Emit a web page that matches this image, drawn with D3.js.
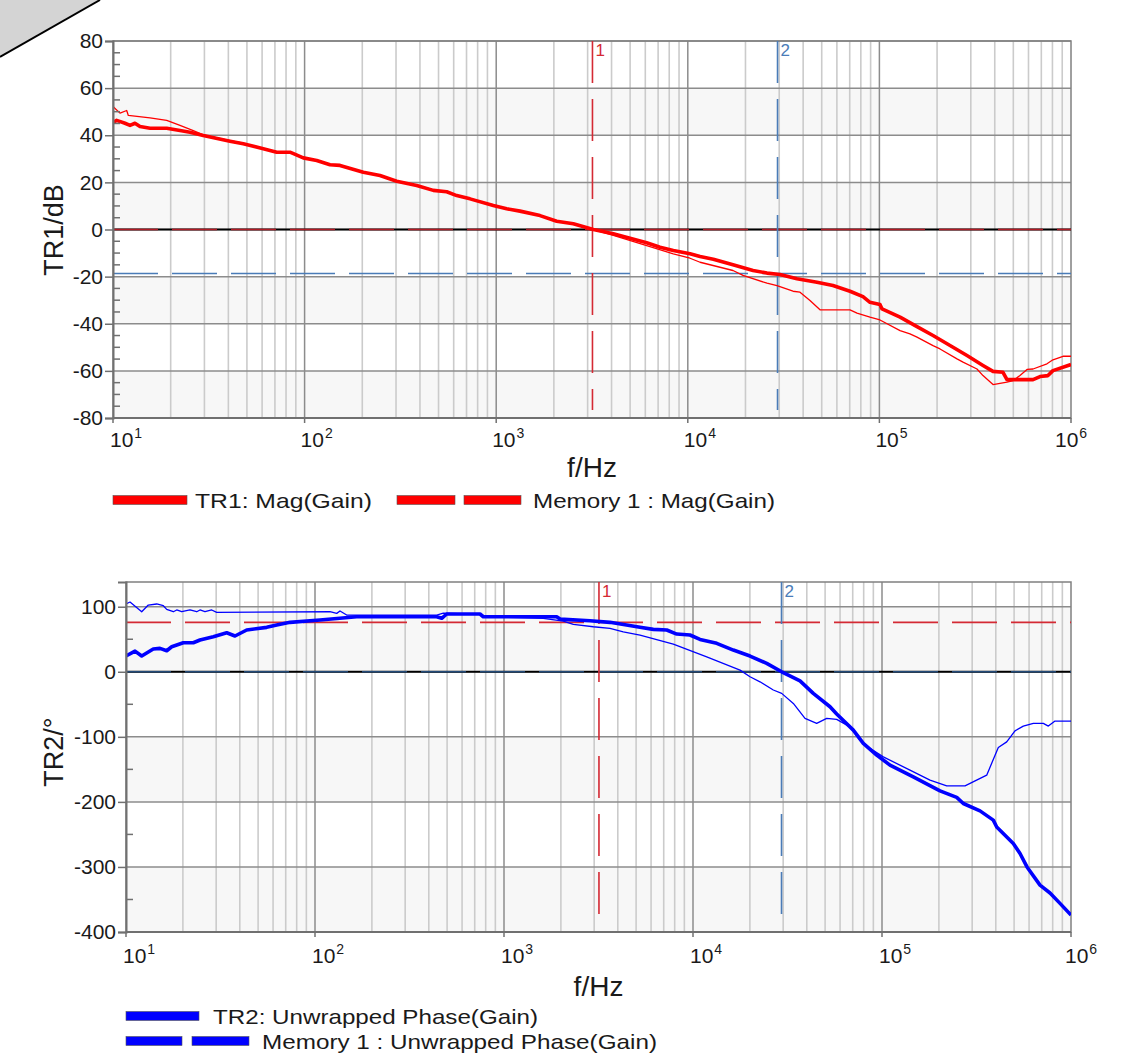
<!DOCTYPE html>
<html>
<head>
<meta charset="utf-8">
<script src="https://cdn.jsdelivr.net/npm/d3@7"></script>
<style>
  body { margin: 0; background: #fff; }
  svg text { font-family: "Liberation Sans", Arial, Helvetica, sans-serif; fill: #1a1a1a; }
</style>
</head>
<body>
<div id="chart"></div>
<script>
// ---- values (frequency in Hz) ----
var magFreq = [10, 10.45, 11.55, 12.27, 13.02, 13.83, 15.6, 19.07, 22.37, 25.23,
  29.6, 40.79, 47.87, 60.87, 71.52, 83.89, 98.44, 115.7, 135.7, 153,
  202.5, 247.5, 302.5, 384.7, 469.6, 551.6, 622.1, 730, 965.9, 1134,
  1331, 1693, 2069, 2526, 3213, 4086, 4993, 6101, 7160, 8401,
  10270, 11590, 13590, 17210, 21900, 25900, 30270, 37130, 47220, 57240,
  70250, 82080, 89300, 100700, 103200, 128200, 157100, 190500, 242200, 286500,
  347300, 391700, 441600, 463400, 633800, 689200, 758300, 805000, 1000000];
var magGain = [45.4, 46.3, 45.1, 44.2, 45.1, 43.7, 43.0, 43.0, 42.0, 41.3,
  39.9, 37.5, 36.4, 34.3, 32.8, 32.8, 30.4, 29.3, 27.5, 27.2,
  24.3, 22.9, 20.5, 18.7, 16.6, 16.0, 14.4, 13.0, 10.2, 8.8,
  7.8, 5.9, 3.5, 2.4, 0, -1.8, -3.7, -5.6, -7.5, -8.9,
  -10.3, -11.5, -12.6, -15.0, -17.4, -18.5, -19.1, -20.9, -22.4, -23.8,
  -26.2, -28.5, -30.9, -31.8, -33.7, -37.2, -41.2, -45.0, -50.0, -53.5,
  -57.7, -60.2, -60.6, -63.7, -63.7, -62.4, -62.0, -59.9, -57.3];

var memMagFreq = [10, 10.88, 11.79, 12.02, 15.6, 19.07, 22.37, 26.25, 29.6, 40.79,
  47.87, 60.87, 71.52, 83.89, 98.44, 115.7, 135.7, 153, 202.5, 247.5,
  302.5, 384.7, 469.6, 551.6, 622.1, 730, 965.9, 1134, 1331, 1693,
  2069, 2526, 3213, 4086, 6101, 8401, 10270, 11590, 17210, 19420,
  25900, 29210, 35410, 38510, 43420, 48980, 70250, 76400, 89300, 100700,
  128200, 144400, 157100, 190500, 207200, 254100, 273200, 323100, 347300, 391700,
  463400, 498200, 541700, 589400, 633800, 749300, 805000, 908200, 1000000];
var memMagGain = [52.2, 49.4, 50.5, 48.4, 47.4, 46.3, 44.2, 42.0, 40.2, 37.7,
  36.6, 34.4, 33.0, 32.9, 30.6, 29.4, 27.7, 27.3, 24.5, 23.0,
  20.6, 18.8, 16.8, 16.0, 14.6, 13.1, 10.3, 8.9, 7.9, 6.0,
  3.6, 2.4, 0, -2.5, -6.8, -10.3, -12.2, -13.9, -17.4, -19.5,
  -22.8, -23.8, -26.2, -26.6, -30.1, -34.1, -34.1, -35.5, -37.2, -38.4,
  -42.9, -44.3, -45.7, -49.3, -50.7, -54.9, -56.3, -59.2, -62.0, -65.8,
  -64.8, -64.1, -62.0, -59.4, -59.2, -57.0, -55.3, -53.8, -53.8];

var phaseFreq = [10, 11.16, 12.11, 13.94, 15.13, 16.42, 17.45, 20.1, 22.7, 24.63,
  28.97, 34.11, 37.73, 43.51, 55.52, 62.72, 73.76, 106.3, 166.2, 440.5,
  468.1, 497.5, 746.5, 777.3, 1900, 1979, 2851, 3637, 5244, 6166,
  7260, 8200, 9640, 10890, 13350, 16340, 20030, 24540, 29460, 36830,
  43290, 53080, 57580, 70500, 79620, 93760, 110200, 146400, 202700, 248500,
  269300, 330000, 388000, 404500, 495100, 537400, 585100, 685500, 774400, 874500,
  1000000];
var phaseDeg = [24.2, 31.8, 24.2, 34.9, 36.0, 32.3, 38.5, 44.6, 44.6, 48.8,
  53.8, 60.0, 55.0, 64.2, 68.3, 71.8, 76.0, 79.5, 84.6, 84.6,
  82.2, 88.8, 88.8, 84.6, 84.6, 81.0, 78.5, 76.0, 68.3, 65.2,
  64.2, 58.0, 56.5, 49.8, 43.7, 33.4, 24.2, 12.9, 0, -14,
  -33.2, -53.8, -65.0, -89.7, -110, -128, -143.5, -161.5, -183, -193,
  -202.5, -213.8, -228, -238.5, -264, -279.4, -300, -328, -340, -356,
  -374];

var memPhaseFreq = [10, 10.5, 12.11, 13.12, 14.54, 15.76, 16.42, 17.8, 18.55, 19.71,
  21.81, 23.67, 24.63, 26.18, 28.41, 30.19, 120, 130.3, 135.6, 147.1,
  440.5, 477.3, 746.5, 777.3, 1614, 2060, 2326, 2969, 3637, 4277,
  5244, 7866, 11820, 17740, 20030, 22620, 26600, 29460, 33950, 39140,
  45130, 50990, 57580, 67720, 76480, 86400, 101600, 140600, 179500, 220000,
  274900, 358100, 412500, 456900, 505400, 559200, 631800, 713800, 758700, 823000,
  1000000];
var memPhaseDeg = [104.2, 107.2, 92.3, 102.6, 104.2, 101.5, 96.0, 92.3, 95.0, 92.3,
  95.0, 92.3, 95.0, 92.3, 95.0, 91.4, 92.3, 89.8, 93.4, 87.2,
  87.2, 90.0, 88.3, 84.6, 82.2, 78.0, 73.0, 69.2, 66.8, 61.5,
  56.5, 42.6, 23.0, 2.6, -7.7, -15.4, -28, -33.2, -48.6, -71.7,
  -79.4, -71.7, -73.2, -84.6, -105, -117.8, -130.8, -151.2, -166.6, -175.4,
  -175.4, -158.9, -116.3, -107.7, -90.8, -83.5, -79.4, -79.4, -83.5, -75.8,
  -75.8];

var markerFreq = [3180, 29400];
var markerLabels = ["1", "2"];
var markerColors = ["#d42a34", "#4a7cb8"];
var markerMag = [0, -18.7];
var markerPhase = [76, 0];

var magTicks = [80, 60, 40, 20, 0, -20, -40, -60, -80];
var phaseTicks = [100, 0, -100, -200, -300, -400];
var decadeExp = [1, 2, 3, 4, 5, 6];
// -------------------------------------------------

var W = 1124, H = 1055;
var svg = d3.select("#chart").append("svg")
  .attr("width", W).attr("height", H);

// folded page corner, top-left
svg.append("path").attr("d", "M0,0 L100,0 L0,57 Z").attr("fill", "#d4d4d4");
svg.append("line").attr("x1", 100).attr("y1", 0).attr("x2", 0).attr("y2", 57)
  .attr("stroke", "#000").attr("stroke-width", 2);

function drawPanel(opt) {
  var x = d3.scaleLog().domain([10, 1e6]).range([opt.left, opt.right]);
  var y = d3.scaleLinear().domain(opt.yDomain).range([opt.bottom, opt.top]);
  var g = svg.append("g");
  var step = opt.yTicks[0] - opt.yTicks[1];

  // alternating bands
  opt.yTicks.forEach(function(t) {
    var lo = t, hi = Math.min(t + step, opt.yDomain[1]);
    if (hi <= lo) return;
    if (((lo % (2 * step)) + 2 * step) % (2 * step) !== 0) return;
    g.append("rect")
      .attr("x", opt.left).attr("width", opt.right - opt.left)
      .attr("y", y(hi)).attr("height", y(lo) - y(hi))
      .attr("fill", "#f7f7f7");
  });

  // minor vertical grid
  var minor = [];
  decadeExp.slice(0, -1).forEach(function(e) {
    for (var k = 2; k <= 9; k++) minor.push(k * Math.pow(10, e));
  });
  g.selectAll(".vminor").data(minor).enter().append("line")
    .attr("x1", d => x(d)).attr("x2", d => x(d))
    .attr("y1", opt.top).attr("y2", opt.bottom)
    .attr("stroke", "#cbcbcb").attr("stroke-width", 1.6);
  // decade lines
  g.selectAll(".vmajor").data(decadeExp.slice(1, -1)).enter().append("line")
    .attr("x1", d => x(Math.pow(10, d))).attr("x2", d => x(Math.pow(10, d)))
    .attr("y1", opt.top).attr("y2", opt.bottom)
    .attr("stroke", "#8c8c8c").attr("stroke-width", 1.5);
  // horizontal grid
  g.selectAll(".hgrid").data(opt.yTicks).enter().append("line")
    .attr("x1", opt.left).attr("x2", opt.right)
    .attr("y1", d => y(d)).attr("y2", d => y(d))
    .attr("stroke", "#8c8c8c").attr("stroke-width", 1.5);

  // frame
  g.append("rect")
    .attr("x", opt.left).attr("y", opt.top)
    .attr("width", opt.right - opt.left).attr("height", opt.bottom - opt.top)
    .attr("fill", "none").attr("stroke", "#808080").attr("stroke-width", 1.5);

  // zero line
  g.append("line")
    .attr("x1", opt.left).attr("x2", opt.right)
    .attr("y1", y(0)).attr("y2", y(0))
    .attr("stroke", "#000").attr("stroke-width", 2);

  // marker horizontal levels
  opt.markerValues.forEach(function(v, i) {
    g.append("line")
      .attr("x1", opt.left).attr("x2", opt.right)
      .attr("y1", y(v)).attr("y2", y(v))
      .attr("stroke", opt.hColors[i]).attr("stroke-width", 1.6)
      .attr("stroke-dasharray", "45,14");
  });
  // marker verticals
  markerFreq.forEach(function(f, i) {
    g.append("line")
      .attr("x1", x(f)).attr("x2", x(f))
      .attr("y1", opt.top).attr("y2", opt.bottom - 8)
      .attr("stroke", markerColors[i]).attr("stroke-width", 1.6)
      .attr("stroke-dasharray", "42,16");
    g.append("text")
      .attr("x", x(f) + 3).attr("y", opt.top + 15)
      .attr("font-size", 17)
      .style("fill", markerColors[i])
      .text(markerLabels[i]);
  });

  // curves
  var clipId = "clip" + opt.top;
  svg.append("clipPath").attr("id", clipId).append("rect")
    .attr("x", opt.left).attr("y", opt.top)
    .attr("width", opt.right - opt.left).attr("height", opt.bottom - opt.top);
  var line = d3.line().x(d => x(d[0])).y(d => y(d[1]));
  var curves = g.append("g").attr("clip-path", "url(#" + clipId + ")");
  opt.series.forEach(function(s) {
    curves.append("path")
      .datum(d3.zip(s.f, s.v))
      .attr("d", line)
      .attr("fill", "none")
      .attr("stroke", s.color)
      .attr("stroke-width", s.width)
      .attr("stroke-linejoin", "round");
  });

  // y axis
  var yAxis = g.append("g")
    .attr("transform", "translate(" + opt.left + ",0)")
    .call(d3.axisLeft(y).tickValues(opt.yTicks).tickSize(8).tickPadding(2)
      .tickFormat(d => String(d)));
  yAxis.select(".domain").attr("stroke", "#707070").attr("stroke-width", 2);
  yAxis.selectAll(".tick line").attr("stroke", "#707070").attr("stroke-width", 1.5);
  yAxis.selectAll(".tick text").attr("font-size", 21)
    .attr("font-family", "Liberation Sans, Arial, sans-serif").style("fill", "#1a1a1a");
  // minor y ticks inside the plot
  var minorY = d3.range(opt.yDomain[0], opt.yDomain[1], opt.yMinor)
    .filter(v => opt.yTicks.indexOf(v) < 0);
  g.selectAll(".yminor").data(minorY).enter().append("line")
    .attr("x1", opt.left).attr("x2", opt.left + 7)
    .attr("y1", d => y(d)).attr("y2", d => y(d))
    .attr("stroke", "#707070").attr("stroke-width", 1.5);

  // x axis (log, decade labels)
  g.append("line")
    .attr("x1", opt.left).attr("x2", opt.right)
    .attr("y1", opt.bottom).attr("y2", opt.bottom)
    .attr("stroke", "#707070").attr("stroke-width", 2);
  decadeExp.forEach(function(e, i) {
    var px = x(Math.pow(10, e));
    g.append("line").attr("x1", px).attr("x2", px)
      .attr("y1", opt.bottom).attr("y2", opt.bottom + 5)
      .attr("stroke", "#707070").attr("stroke-width", 1.5);
    var lx = px + opt.labelShift[i];
    var t = g.append("text").attr("x", lx).attr("y", opt.bottom + opt.labelDy)
      .attr("font-size", 21);
    t.append("tspan").text("10");
    t.append("tspan").attr("font-size", 14).attr("dy", -9).attr("dx", 1).text(String(e));
  });

  // axis titles
  svg.append("text")
    .attr("x", (opt.left + opt.right) / 2).attr("y", opt.xTitleY)
    .attr("text-anchor", "middle").attr("font-size", 28)
    .text("f/Hz");
  svg.append("text")
    .attr("transform", "translate(" + 63 + "," + opt.yTitleY + ") rotate(-90)")
    .attr("text-anchor", "middle").attr("font-size", 27)
    .text(opt.yTitle);
}

drawPanel({
  left: 113, right: 1071, top: 41, bottom: 418,
  yDomain: [-80, 80], yTicks: magTicks, yMinor: 5,
  markerValues: markerMag, hColors: ["#b01a24", "#4a7cb8"],
  labelShift: [-3, -4, -4, -4, -4, -16], labelDy: 29,
  xTitleY: 477, yTitle: "TR1/dB", yTitleY: 230,
  series: [
    { f: memMagFreq, v: memMagGain, color: "#ff0000", width: 1.3 },
    { f: magFreq, v: magGain, color: "#ff0000", width: 3.6 }
  ]
});

drawPanel({
  left: 126, right: 1071, top: 582, bottom: 932,
  yDomain: [-400, 138], yTicks: phaseTicks, yMinor: 50,
  markerValues: markerPhase, hColors: ["#d42a34", "#234a78"],
  labelShift: [-3, -3, -3, -3, -3, -6], labelDy: 31,
  xTitleY: 996, yTitle: "TR2/\u00b0", yTitleY: 752,
  series: [
    { f: memPhaseFreq, v: memPhaseDeg, color: "#0000ff", width: 1.3 },
    { f: phaseFreq, v: phaseDeg, color: "#0000ff", width: 3.6 }
  ]
});

// legends
function legendBar(x0, x1, yc, color) {
  svg.append("rect").attr("x", x0).attr("y", yc - 4.5)
    .attr("width", x1 - x0).attr("height", 9)
    .attr("fill", color).attr("stroke", "#555").attr("stroke-width", 0.6);
}
function legendText(x0, yc, len, txt) {
  svg.append("text").attr("x", x0).attr("y", yc + 7.5)
    .attr("font-size", 21)
    .attr("textLength", len).attr("lengthAdjust", "spacingAndGlyphs")
    .text(txt);
}

legendBar(113, 187, 500, "#ff0000");
legendText(195, 500, 177, "TR1: Mag(Gain)");
legendBar(397, 455, 500, "#ff0000");
legendBar(464, 521, 500, "#ff0000");
legendText(533, 500, 242, "Memory 1 : Mag(Gain)");

legendBar(126, 199, 1016, "#0000ff");
legendText(213, 1016, 325, "TR2: Unwrapped Phase(Gain)");
legendBar(126, 182, 1041, "#0000ff");
legendBar(192, 249, 1041, "#0000ff");
legendText(262, 1041, 395, "Memory 1 : Unwrapped Phase(Gain)");
</script>
</body>
</html>
